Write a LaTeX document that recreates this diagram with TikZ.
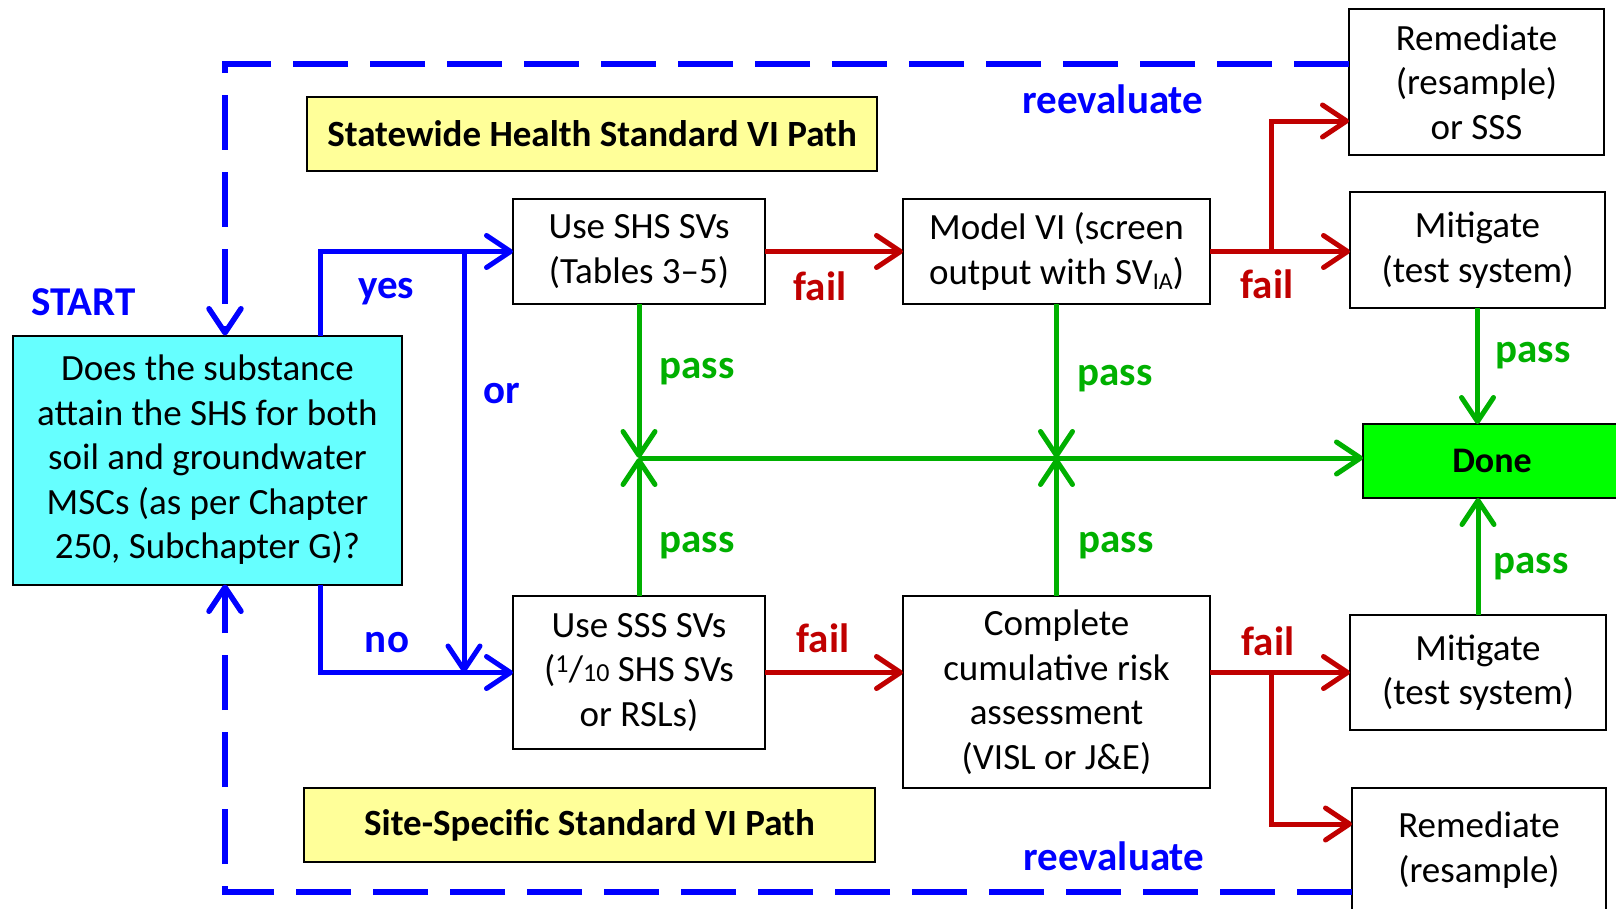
\documentclass[tikz,border=0pt]{standalone}
\usepackage{fontspec}
\setmainfont{Carlito}
\usetikzlibrary{arrows.meta,calc}
\definecolor{c0000ff}{RGB}{0,0,255}
\definecolor{cc00000}{RGB}{192,0,0}
\definecolor{c00b000}{RGB}{0,176,0}
\definecolor{c66ffff}{RGB}{102,255,255}
\definecolor{cffff99}{RGB}{255,255,153}
\definecolor{c00ff00}{RGB}{0,255,0}

\begin{document}
\begin{tikzpicture}[y=1pt, x=1pt, yscale=-1, inner sep=0pt, outer sep=0pt,
  box/.style={draw=black, line width=2pt, fill=white, align=center,
    font=\fontsize{37}{44.5}\selectfont},
  title/.style={box, fill=cffff99, font=\fontsize{37}{42}\selectfont\bfseries},
  lbl/.style={anchor=base, font=\fontsize{41}{48}\selectfont\bfseries},
  tip/.style={-{Straight Barb[length=24pt,width=32pt,line cap=round,line join=round]}},
  blueline/.style={draw=c0000ff, line width=5pt, tip},
  backline/.style={draw=c0000ff, line width=5.5pt, dash pattern=on 55pt off 22pt, tip},
  failline/.style={draw=cc00000, line width=5pt, tip},
  passline/.style={draw=c00b000, line width=5pt, tip}]
\useasboundingbox (0,0) rectangle (1616,908);

% boxes
\node[box, fill=c66ffff, minimum width=389, minimum height=249] (question) at (207.5,460)
  {Does the substance\\attain the SHS for both\\soil and groundwater\\MSCs (as per Chapter\\250, Subchapter G)?};
\node[box, minimum width=252, minimum height=105] (shs) at (639,251.5) {Use SHS SVs\\(Tables 3–5)};
\node[box, minimum width=307, minimum height=105] (model) at (1056.5,251.5)
  {Model VI (screen\\output with SV\raisebox{-0.3ex}{\fontsize{24}{24}\selectfont IA})};
\node[box, minimum width=252, minimum height=153] (sss) at (639,672.5)
  {Use SSS SVs\\(\textsuperscript{1}/{\fontsize{26}{26}\selectfont 10} SHS SVs\\or RSLs)};
\node[box, minimum width=307, minimum height=192] (cra) at (1056.5,692)
  {Complete\\cumulative risk\\assessment\\(VISL or J\&E)};
\node[box, minimum width=255, minimum height=146] (remtop) at (1476.5,82) {Remediate\\(resample)\\or SSS};
\node[box, minimum width=255, minimum height=116] (mittop) at (1477.5,250) {Mitigate\\(test system)};
\node[box, fill=c00ff00, font=\fontsize{36}{42}\selectfont\bfseries,
  minimum width=258, minimum height=74] (done) at (1492,461) {Done};
\node[box, minimum width=256, minimum height=115] (mitbot) at (1478,672.5) {Mitigate\\(test system)};
\node[box, minimum width=254, minimum height=124] (rembot) at (1479,850) {Remediate\\(resample)};
\node[title, minimum width=570, minimum height=74] (shspath) at (592,134) {Statewide Health Standard VI Path};
\node[title, minimum width=571, minimum height=74] (ssspath) at (589.5,825) {Site-Specific Standard VI Path};

% labels
\node[lbl, text=c0000ff] (start) at (83.5,315) {START};
\node[lbl, text=c0000ff] (yes) at (386,298) {yes};
\node[lbl, text=c0000ff] (no) at (387,652) {no};
\node[lbl, text=c0000ff] (or) at (502,403) {or};
\node[lbl, text=c0000ff] (reevtop) at (1113,113) {reevaluate};
\node[lbl, text=c0000ff] (reevbot) at (1114,870) {reevaluate};
\node[lbl, text=cc00000] (failshs) at (820,300) {fail};
\node[lbl, text=cc00000] (failsss) at (823,652) {fail};
\node[lbl, text=cc00000] (failmodel) at (1267,298) {fail};
\node[lbl, text=cc00000] (failcra) at (1268,655) {fail};
\node[lbl, text=c00b000] (passshs) at (697,378) {pass};
\node[lbl, text=c00b000] (passmodel) at (1115,385) {pass};
\node[lbl, text=c00b000] (passsss) at (697,552) {pass};
\node[lbl, text=c00b000] (passcra) at (1116,552) {pass};
\node[lbl, text=c00b000] (passmittop) at (1533,362) {pass};
\node[lbl, text=c00b000] (passmitbot) at (1531,573) {pass};

% connectors
\coordinate (bend) at (320,0);
\coordinate (ortop) at (464,254);
\coordinate (toploop) at (225,64);
\coordinate (botloop) at (225,892);
\coordinate (passrow) at (0,458);
\coordinate (failfork) at (1271,0);

\draw[blueline] (question.north -| bend) |- (shs.west);
\draw[blueline] (question.south -| bend) |- (sss.west);
\draw[blueline] (ortop) -- (ortop |- sss.west);
\draw[backline] (toploop -| remtop.west) -- (toploop) -- (toploop |- question.north);
\draw[backline] (botloop -| rembot.west) -- (botloop) -- (botloop |- question.south);

\draw[failline] (shs.east) -- (model.west);
\draw[failline] (model.east) -- (model.east -| mittop.west);
\draw[failline] (model.east -| failfork) |- ($(remtop.west)+(0,39)$);
\draw[failline] (sss.east) -- (sss.east -| cra.west);
\draw[failline] (cra.east |- mitbot.west) -- (mitbot.west);
\draw[failline] (failfork |- mitbot.west) |- ($(rembot.north west)+(0,36)$);

\draw[passline] (shs.south) -- (shs.south |- passrow);
\draw[passline] (sss.north) -- (sss.north |- passrow);
\draw[passline] (model.south) -- (model.south |- passrow);
\draw[passline] (cra.north) -- (cra.north |- passrow);
\draw[passline] (shs.south |- passrow) -- (passrow -| done.west);
\draw[passline] (mittop.south) -- (mittop.south |- done.north);
\draw[passline] (mitbot.north) -- (mitbot.north |- done.south);
\end{tikzpicture}
\end{document}
